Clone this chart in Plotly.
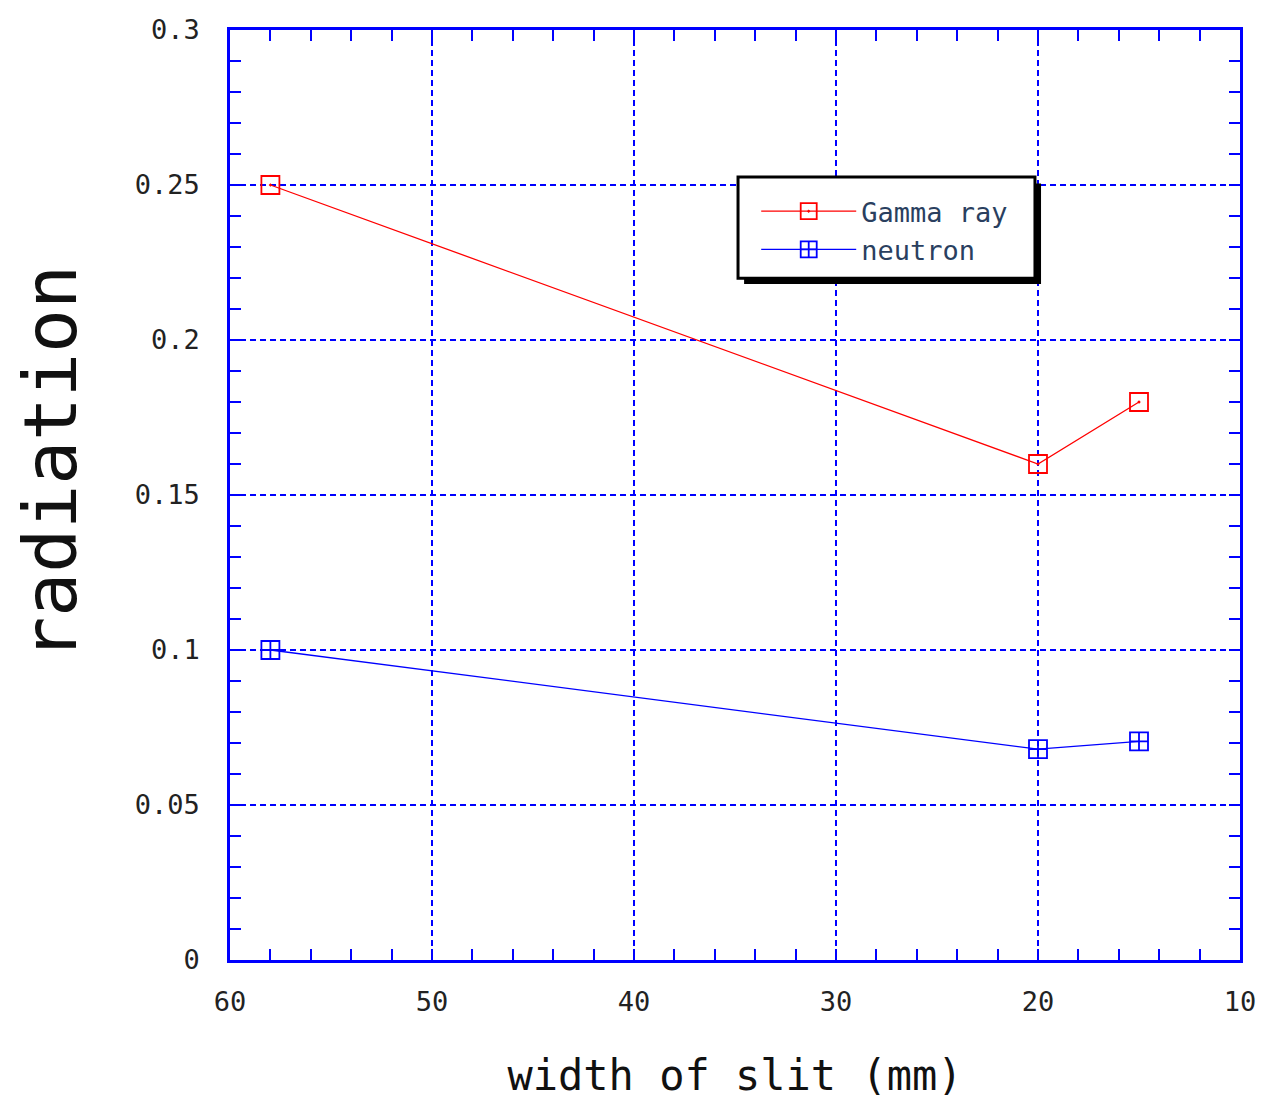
import plotly.graph_objects as go

slit_width = [58, 20, 15]
gamma_ray = [0.25, 0.16, 0.18]
neutron = [0.1, 0.068, 0.0705]

x_ticks = [60, 50, 40, 30, 20, 10]
y_ticks = [0, 0.05, 0.1, 0.15, 0.2, 0.25, 0.3]
y_tick_text = ["0", "0.05", "0.1", "0.15", "0.2", "0.25", "0.3"]

BLUE = "#0000ff"
RED = "#ff0000"
MONO = "DejaVu Sans Mono"

fig = go.Figure()
fig.add_trace(go.Scatter(
    x=slit_width, y=gamma_ray, name="Gamma ray", mode="lines+markers",
    line=dict(color=RED, width=1.3),
    marker=dict(symbol="square-open-dot", size=18, color=RED, line=dict(width=1.8, color=RED)),
))
fig.add_trace(go.Scatter(
    x=slit_width, y=neutron, name="neutron", mode="lines+markers",
    line=dict(color=BLUE, width=1.3),
    marker=dict(symbol="square-cross-open", size=18, color=BLUE, line=dict(width=1.8, color=BLUE)),
))

axis_common = dict(
    showline=True, linecolor=BLUE, linewidth=2.5, mirror="ticks",
    ticks="inside", tickcolor=BLUE, ticklen=11, tickwidth=2,
    showgrid=True, gridcolor=BLUE, griddash="6px,4px", gridwidth=1.5,
    zeroline=False, tickfont=dict(family=MONO, size=27, color="#222222"),
    ticklabeloverflow="allow", automargin=False,
)

fig.update_xaxes(
    range=[60, 10], tickvals=x_ticks, ticklabelstandoff=16,
    minor=dict(ticks="inside", dtick=2, ticklen=11, tickcolor=BLUE, tickwidth=2, showgrid=False),
    title=dict(text="width of slit (mm)", font=dict(family=MONO, size=42, color="#111111"), standoff=50),
    **axis_common,
)
fig.update_yaxes(
    range=[0, 0.3], tickvals=y_ticks, ticktext=y_tick_text, ticklabelstandoff=22,
    minor=dict(ticks="inside", dtick=0.01, ticklen=11, tickcolor=BLUE, tickwidth=2, showgrid=False),
    **axis_common,
)

# y-axis title as annotation (placed a bit above centre, as in reference)
fig.add_annotation(
    text="radiation", textangle=-90, xref="paper", yref="paper",
    x=-0.178, y=0.535, xanchor="center", yanchor="middle", showarrow=False,
    font=dict(family=MONO, size=73, color="#111111"),
)

# legend box with shadow
fig.add_shape(type="rect", xref="paper", yref="paper", layer="above",
              x0=0.509, x1=0.803, y0=0.727, y1=0.835,
              fillcolor="black", line=dict(width=0))
fig.add_shape(type="rect", xref="paper", yref="paper", layer="above",
              x0=0.503, x1=0.797, y0=0.733, y1=0.842,
              fillcolor="white", line=dict(color="black", width=3))

fig.update_layout(
    width=1261, height=1100,
    margin=dict(l=230, r=21, t=30, b=140),
    paper_bgcolor="white", plot_bgcolor="white",
    showlegend=True,
    legend=dict(
        x=0.521, y=0.831, xanchor="left", yanchor="top",
        bgcolor="rgba(0,0,0,0)", borderwidth=0,
        font=dict(family=MONO, size=27),
        itemwidth=95, tracegroupgap=0,
    ),
)

fig.write_html("out.html", config={"displayModeBar": False},
               post_script="document.body.style.margin='0';document.body.style.overflow='hidden';")
